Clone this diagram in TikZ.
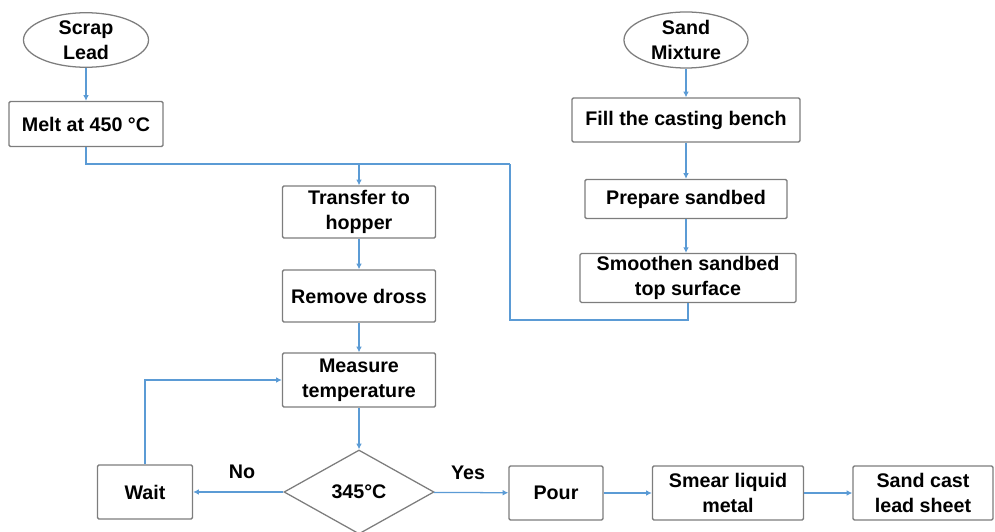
\documentclass[tikz,border=0pt]{standalone}
\usepackage{fontspec}
\setmainfont{Liberation Sans}
\usetikzlibrary{arrows.meta,shapes.geometric}
\definecolor{linkblue}{RGB}{91,155,213}
\definecolor{edgegray}{RGB}{125,125,125}
\tikzset{
	label text/.style={font=\fontsize{14}{17.5}\selectfont\bfseries},
	box/.style={draw=edgegray,line width=.9pt,rounded corners=1pt,align=center,inner sep=1pt,label text},
	oval/.style={ellipse,draw=edgegray,line width=.9pt,align=center,inner sep=0pt,label text},
	link/.style={draw=linkblue,line width=.9pt},
	flow/.style={link,-{Latex[length=4pt,width=4pt]}}
}
\begin{document}
\begin{tikzpicture}[x=0.025cm,y=-0.025cm]
		\useasboundingbox (0,0) rectangle (995,532);
		\node[oval,minimum width=3.125cm,minimum height=1.35cm] (lead) at (86,40){Scrap\\Lead};
		\node[box,minimum width=3.85cm,minimum height=1.125cm] (melt) at (86,124){Melt at 450 °C};
		\node[oval,minimum width=3.1cm,minimum height=1.4cm] (sand) at (686,40){Sand\\Mixture};
		\node[box,minimum width=5.7cm,minimum height=1.1cm] (fill) at (686,120){Fill the casting bench};
		\node[box,minimum width=5.05cm,minimum height=.975cm] (prep) at (686,199){Prepare sandbed};
		\node[box,minimum width=5.4cm,minimum height=1.22cm] (smooth) at (688,278){Smoothen sandbed\\top surface};
		\node[box,minimum width=3.825cm,minimum height=1.3cm] (transfer) at (359,212){Transfer to\\hopper};
		\node[box,minimum width=3.825cm,minimum height=1.3cm] (dross) at (359,296){Remove dross};
		\node[box,minimum width=3.825cm,minimum height=1.35cm] (measure) at (359,380){Measure\\temperature};
		\node[diamond,draw=edgegray,line width=.9pt,inner sep=0pt,minimum width=3.75cm,minimum height=2.1cm,label text] (test) at (359,492){345°C};
		\node[box,minimum width=2.375cm,minimum height=1.35cm] (wait) at (145,492){Wait};
		\node[box,minimum width=2.35cm,minimum height=1.35cm] (pour) at (556,493){Pour};
		\node[box,minimum width=3.775cm,minimum height=1.35cm] (smear) at (728,493){Smear liquid\\metal};
		\node[box,minimum width=3.5cm,minimum height=1.35cm] (cast) at (923,493){Sand cast\\lead sheet};
		\node[label text] (no) at (242,472){No};
		\node[label text] (yes) at (468,473){Yes};
		\coordinate (merge) at (359,164);
		\coordinate (turn) at (510,164);
		\coordinate (low) at (510,320);
		\draw[flow] (lead) -- (melt);
		\draw[flow] (sand) -- (fill);
		\draw[flow] (fill) -- (prep);
		\draw[flow] (prep.south) -- (prep.south |- smooth.north);
		\draw[link] (melt.south) |- (turn);
		\draw[link] (smooth.south) |- (low) -- (turn);
		\draw[flow] (merge) -- (transfer);
		\draw[flow] (transfer) -- (dross);
		\draw[flow] (dross) -- (measure);
		\draw[flow] (measure) -- (test);
		\draw[flow] (test) -- (wait);
		\draw[flow] (wait.north) |- (measure.west);
		\draw[flow] (test) -- (pour);
		\draw[flow] (pour) -- (smear);
		\draw[flow] (smear) -- (cast);
	\end{tikzpicture}
\end{document}
